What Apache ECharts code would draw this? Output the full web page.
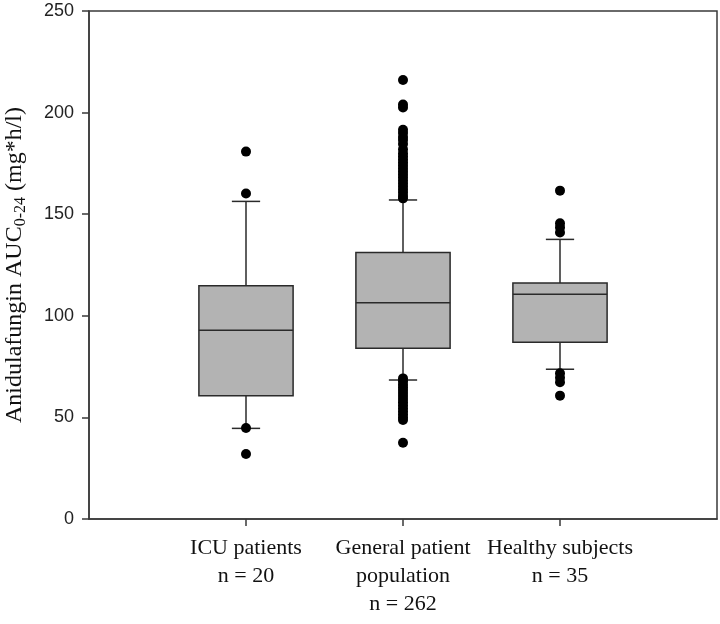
<!DOCTYPE html>
<html><head><meta charset="utf-8">
<script src="https://cdn.jsdelivr.net/npm/echarts@6/dist/echarts.min.js"></script>
<style>html,body{margin:0;padding:0;background:#fff}#c{width:720px;height:624px}</style>
</head><body><div id="c"></div>
<script>
// x positions: blank slots at both ends so groups sit at 1, 2, 3
const categories = ['', 'ICU patients\nn = 20', 'General patient\npopulation\nn = 262', 'Healthy subjects\nn = 35', ''];
// [lower whisker, Q1, median, Q3, upper whisker]
const icuStats = [44.6, 60.7, 92.9, 114.8, 156.3];
const generalStats = [68.4, 84.0, 106.4, 131.1, 157.0];
const healthyStats = [73.7, 87.0, 110.6, 116.1, 137.6];
const icuOutliers = [180.8, 160.2, 44.8, 32.0];
const generalOutliers = [216.0, 204.0, 202.5, 191.5, 190.0, 188.0, 186.5, 184.5, 182.0, 180.0, 178.5, 177.0,
  175.5, 174.0, 172.5, 171.0, 169.5, 168.0, 166.5, 165.0, 163.5, 162.0, 160.5, 159.0, 157.8,
  69.2, 67.8, 66.2, 64.8, 63.5, 62.0, 60.5, 59.0, 57.5, 56.0, 54.5, 53.0, 51.5, 50.0, 48.7, 37.5];
const healthyOutliers = [161.6, 145.5, 143.5, 141.0, 71.7, 69.5, 67.3, 60.7];
const yTicks = [0, 50, 100, 150, 200, 250];

const groups = [
  {x: 1, stats: icuStats, out: icuOutliers},
  {x: 2, stats: generalStats, out: generalOutliers},
  {x: 3, stats: healthyStats, out: healthyOutliers}
];
const boxData = groups.map(g => [g.x].concat(g.stats));
const outlierData = [];
groups.forEach(g => g.out.forEach(v => outlierData.push([g.x, v])));

const chart = echarts.init(document.getElementById('c'), null, {renderer: 'canvas'});
const lineCol = '#2a2a2a';

function renderBox(params, api) {
  const x = api.value(0);
  const band = api.size([1, 0])[0];
  const bw = band * 0.6, cw = band * 0.18;
  const pLow = api.coord([x, api.value(1)]);
  const pQ1 = api.coord([x, api.value(2)]);
  const pMed = api.coord([x, api.value(3)]);
  const pQ3 = api.coord([x, api.value(4)]);
  const pHigh = api.coord([x, api.value(5)]);
  const cx = pMed[0];
  const ls = {stroke: lineCol, lineWidth: 1.5};
  return {
    type: 'group',
    children: [
      {type: 'line', shape: {x1: cx, y1: pQ3[1], x2: cx, y2: pHigh[1]}, style: ls},
      {type: 'line', shape: {x1: cx, y1: pQ1[1], x2: cx, y2: pLow[1]}, style: ls},
      {type: 'line', shape: {x1: cx - cw / 2, y1: pHigh[1], x2: cx + cw / 2, y2: pHigh[1]}, style: ls},
      {type: 'line', shape: {x1: cx - cw / 2, y1: pLow[1], x2: cx + cw / 2, y2: pLow[1]}, style: ls},
      {type: 'rect', shape: {x: cx - bw / 2, y: pQ3[1], width: bw, height: pQ1[1] - pQ3[1]},
        style: {fill: '#b3b3b3', stroke: lineCol, lineWidth: 1.5}},
      {type: 'line', shape: {x1: cx - bw / 2, y1: pMed[1], x2: cx + bw / 2, y2: pMed[1]}, style: ls}
    ]
  };
}

chart.setOption({
  animation: false,
  backgroundColor: '#fff',
  grid: {left: 89, right: 3, top: 11, bottom: 105, containLabel: false, outerBoundsMode: 'none',
    show: true, borderColor: '#3a3a3a', borderWidth: 1.5},
  xAxis: {
    type: 'category', data: categories, boundaryGap: false,
    axisLine: {lineStyle: {color: '#3a3a3a', width: 1.5}},
    axisTick: {show: true, length: 7, interval: (i) => i >= 1 && i <= 3, lineStyle: {color: '#3a3a3a', width: 1.5}},
    axisLabel: {interval: 0, fontFamily: 'Liberation Serif', fontSize: 22, lineHeight: 28, color: '#111', margin: 15},
    splitLine: {show: false}
  },
  yAxis: {
    type: 'value', min: yTicks[0], max: yTicks[yTicks.length - 1], interval: 50,
    axisLine: {show: true, lineStyle: {color: '#3a3a3a', width: 1.5}},
    axisTick: {show: true, length: 7, lineStyle: {color: '#3a3a3a', width: 1.5}},
    axisLabel: {fontFamily: 'Liberation Sans', fontSize: 18, color: '#222', margin: 15},
    splitLine: {show: false},
    name: '{a|Anidulafungin AUC}{s|0-24}{a| (mg*h/l)}',
    nameLocation: 'middle', nameRotate: 90, nameGap: 60,
    nameTextStyle: {
      rich: {
        a: {fontFamily: 'Liberation Serif', fontSize: 24, color: '#111', lineHeight: 28, verticalAlign: 'middle'},
        s: {fontFamily: 'Liberation Serif', fontSize: 16, color: '#111', lineHeight: 28, verticalAlign: 'bottom'}
      }
    }
  },
  series: [
    {type: 'custom', renderItem: renderBox, data: boxData, encode: {x: 0, y: [1, 2, 3, 4, 5]}, z: 2},
    {type: 'scatter', data: outlierData, symbol: 'circle', symbolSize: 10,
      itemStyle: {color: '#000', opacity: 1}, z: 3}
  ]
});
</script></body></html>
